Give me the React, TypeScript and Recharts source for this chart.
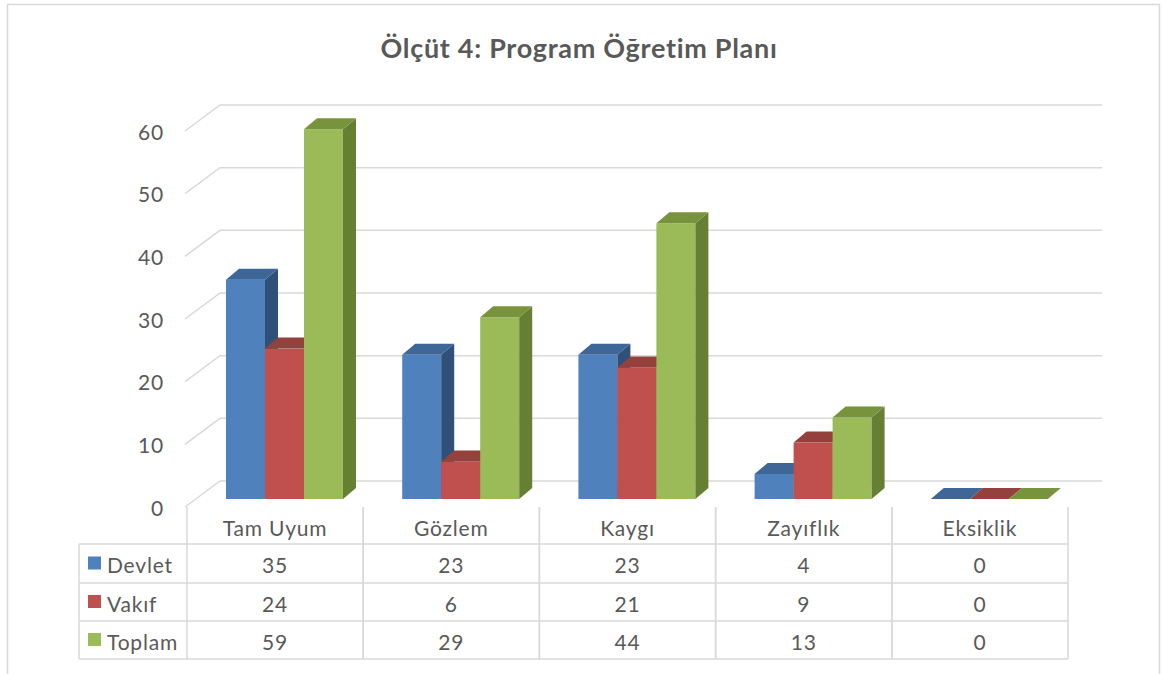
import React from 'react';
import { ComposedChart, Bar, XAxis, YAxis, CartesianGrid } from 'recharts';

const categories = ['Tam Uyum', 'Gözlem', 'Kaygı', 'Zayıflık', 'Eksiklik'];
const devlet = [35, 23, 23, 4, 0];
const vakif = [24, 6, 21, 9, 0];
const toplam = [59, 29, 44, 13, 0];
const yTicks = [0, 10, 20, 30, 40, 50, 60];
const seriesNames = ['Devlet', 'Vakıf', 'Toplam'];
const title = 'Ölçüt 4: Program Öğretim Planı';

const seriesKeys = ['devlet', 'vakif', 'toplam'];
const seriesValues = [devlet, vakif, toplam];
const faces = [
  { front: '#4f81bd', top: '#3e6696', side: '#2f5078' },
  { front: '#c0504d', top: '#94403d', side: '#853835' },
  { front: '#9bbb59', top: '#77933c', side: '#657f33' },
];

const data = categories.map((c, i) => ({
  name: c,
  devlet: devlet[i],
  vakif: vakif[i],
  toplam: toplam[i],
}));

const W = 1162;
const H = 674;
const PLOT_LEFT = 187;
const PLOT_RIGHT = 1068;
const PLOT_TOP = 123;
const PLOT_BOTTOM = 499;
const BAND = (PLOT_RIGHT - PLOT_LEFT) / categories.length;
const DX = 13;
const DY = -11;
const SHIFT = 9;
const FONT = 'Lato, "Open Sans", sans-serif';
const FS = 21;
const LS = 0.8;
const TXT = '#595959';
const GRID = '#d9d9d9';
const ROW_LINES = [544, 583, 621, 659];
const HEADER_TOP = 507;
const HEADER_Y = 527;
const TABLE_LEFT = 79;

const makeShape = (si: number) => (props: any) => {
  const { x, y, width, height } = props;
  const f = faces[si];
  const x0 = x + SHIFT;
  const x1 = x0 + width;
  const yb = y + height;
  return (
    <g>
      <rect x={x0} y={y} width={width} height={Math.max(height, 0)} fill={f.front} />
      <path d={`M${x1},${y} L${x1 + DX},${y + DY} L${x1 + DX},${yb + DY} L${x1},${yb} Z`} fill={f.side} />
      <path d={`M${x0},${y} L${x0 + DX},${y + DY} L${x1 + DX},${y + DY} L${x1},${y} Z`} fill={f.top} />
    </g>
  );
};

const gridLine = (props: any) => {
  const { y1, index } = props;
  const fy = y1 + 8;
  const by = y1 - 18;
  return (
    <path
      key={`g${index}`}
      d={`M185,${fy} L220,${by} L1102,${by}`}
      fill="none"
      stroke={GRID}
      strokeWidth={1.5}
    />
  );
};

const YTick = (props: any) => {
  const { y, payload } = props;
  return (
    <text x={164} y={y + 8} textAnchor="end" dominantBaseline="central" fontFamily={FONT} fontSize={FS} letterSpacing={LS} fill={TXT}>
      {payload.value}
    </text>
  );
};

const XTick = (props: any) => {
  const { x, payload, index } = props;
  const l = x - BAND / 2;
  const r = x + BAND / 2;
  const rowCenters = [0, 1, 2].map((k) => (ROW_LINES[k] + ROW_LINES[k + 1]) / 2);
  return (
    <g>
      <line x1={l} y1={HEADER_TOP} x2={l} y2={ROW_LINES[3]} stroke={GRID} strokeWidth={1.5} />
      <line x1={r} y1={HEADER_TOP} x2={r} y2={ROW_LINES[3]} stroke={GRID} strokeWidth={1.5} />
      {ROW_LINES.map((ly, k) => (
        <line key={k} x1={index === 0 ? TABLE_LEFT : l} y1={ly} x2={r} y2={ly} stroke={GRID} strokeWidth={1.5} />
      ))}
      {index === 0 && (
        <g>
          <line x1={TABLE_LEFT} y1={ROW_LINES[0]} x2={TABLE_LEFT} y2={ROW_LINES[3]} stroke={GRID} strokeWidth={1.5} />
          {seriesNames.map((n, k) => (
            <g key={n}>
              <rect x={88} y={rowCenters[k] - 7} width={13} height={13} fill={faces[k].front} />
              <text x={107} y={rowCenters[k] + 1} dominantBaseline="central" fontFamily={FONT} fontSize={FS} letterSpacing={LS} fill={TXT}>
                {n}
              </text>
            </g>
          ))}
        </g>
      )}
      <text x={x} y={HEADER_Y} textAnchor="middle" dominantBaseline="central" fontFamily={FONT} fontSize={FS} letterSpacing={LS} fill={TXT}>
        {payload.value}
      </text>
      {seriesValues.map((vals, k) => (
        <text key={k} x={x} y={rowCenters[k] + 1} textAnchor="middle" dominantBaseline="central" fontFamily={FONT} fontSize={FS} letterSpacing={LS} fill={TXT}>
          {vals[index]}
        </text>
      ))}
    </g>
  );
};

export default function App() {
  return (
    <div style={{ position: 'absolute', left: 0, top: 0, width: W, height: H, background: '#fff' }}>
      <ComposedChart
        width={W}
        height={H}
        data={data}
        margin={{ top: PLOT_TOP, right: W - PLOT_RIGHT, bottom: 0, left: 0 }}
        barGap={0}
      >
        <CartesianGrid horizontal={gridLine} vertical={false} />
        <XAxis
          dataKey="name"
          height={H - PLOT_BOTTOM}
          axisLine={false}
          tickLine={false}
          interval={0}
          tick={<XTick />}
        />
        <YAxis
          width={PLOT_LEFT}
          domain={[0, 60]}
          ticks={yTicks}
          axisLine={false}
          tickLine={false}
          tick={<YTick />}
        />
        {seriesKeys.map((k, i) => (
          <Bar key={k} dataKey={k} barSize={39} isAnimationActive={false} shape={makeShape(i)} />
        ))}
      </ComposedChart>
      <svg width={W} height={H} style={{ position: 'absolute', left: 0, top: 0, pointerEvents: 'none' }}>
        <rect x={7.5} y={4.5} width={1152} height={700} fill="none" stroke={GRID} strokeWidth={1.5} />
        <text x={579} y={47} textAnchor="middle" dominantBaseline="central" fontFamily={FONT} fontWeight={700} fontSize={27} letterSpacing={0.7} fill={TXT}>
          {title}
        </text>
      </svg>
    </div>
  );
}
